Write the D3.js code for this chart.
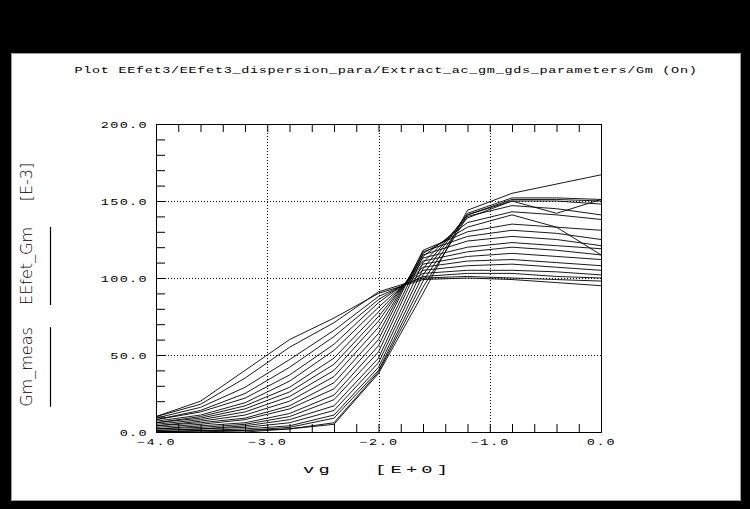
<!DOCTYPE html>
<html>
<head>
<meta charset="utf-8">
<script src="https://cdn.jsdelivr.net/npm/d3@7"></script>
<style>
  html, body { margin: 0; padding: 0; background: #000; }
  svg { display: block; }
</style>
</head>
<body>
<svg id="chart" width="750" height="509"></svg>
<script>
// Gate-voltage sweep points (V)
const vg = [-4.0, -3.6, -3.2, -2.8, -2.4, -2.0, -1.6, -1.2, -0.8, -0.4, 0.0];

// Measured transconductance, one row per bias condition (mS)
const gmMeas = [
  [10, 20, 40, 60, 74, 90,  99, 100,  99,  97,  95],
  [9, 16, 29, 47, 66, 88, 101, 103, 103, 101, 100],
  [8, 13, 22, 37, 57, 84, 105, 108, 109, 107, 105],
  [6, 10, 17, 29, 48, 78, 109, 114, 116, 114, 112],
  [5,  8, 13, 23, 40, 72, 113, 120, 123, 121, 119],
  [4,  6,  9, 17, 32, 64, 117, 127, 131, 129, 125],
  [2,  4,  6, 12, 24, 56, 116, 133, 141, 133, 115],
  [1,  2,  4,  8, 17, 48, 110, 139, 150, 142, 151],
  [0,  1,  2,  4, 11, 42, 102, 142, 152, 152, 151],
  [0,  0,  0,  2,  5, 38,  90, 144, 155, 161, 167]
];

// EEfet model transconductance for the same bias conditions (mS)
const gmModel = [
  [10, 18, 35, 55, 71, 91, 100, 101, 100,  99,  98],
  [8, 14, 25, 42, 62, 86, 103, 105, 105, 104, 102],
  [7, 11, 19, 33, 53, 81, 107, 111, 112, 110, 108],
  [6,  9, 15, 26, 44, 75, 111, 117, 120, 118, 115],
  [4,  7, 11, 20, 36, 68, 115, 124, 127, 125, 121],
  [3,  5,  8, 15, 28, 60, 118, 130, 135, 133, 131],
  [2,  3,  5, 10, 21, 52, 114, 136, 143, 141, 138],
  [1,  2,  3,  6, 14, 45, 106, 141, 150, 150, 148],
  [0,  1,  1,  3,  9, 40,  98, 141, 151, 151, 150],
  [0,  0,  1,  2,  6, 39,  94, 140, 147, 145, 141]
];

// Axis labelling
const xTickLabels = [-4, -3, -2, -1, 0];
const yTickLabels = [0, 50, 100, 150, 200];
const xMinorStep = 0.2;
const yMinorStep = 10;
const titleText = "Plot EEfet3/EEfet3_dispersion_para/Extract_ac_gm_gds_parameters/Gm (On)";
const xName = "vg";
const xUnit = "[E+0]";
const yNames = ["Gm_meas", "EEfet_Gm"];
const yUnit = "[E-3]";

const svg = d3.select("#chart");
const mono = "'Liberation Mono', 'DejaVu Sans Mono', monospace";

// White drawing sheet on the black screen
svg.append("rect")
  .attr("x", 11.5).attr("y", 53.5)
  .attr("width", 729).attr("height", 447)
  .attr("fill", "#fff").attr("stroke", "#9a9a9a");

const plot = { left: 156, right: 601, top: 124, bottom: 432 };
const x = d3.scaleLinear().domain([xTickLabels[0], xTickLabels[xTickLabels.length - 1]])
  .range([plot.left, plot.right]);
const y = d3.scaleLinear().domain([yTickLabels[0], yTickLabels[yTickLabels.length - 1]])
  .range([plot.bottom, plot.top]);

// Wide, short plotter-style lettering
function plotterText(sel, size, sx, spacing) {
  sel.attr("font-family", mono)
    .attr("font-size", size)
    .attr("letter-spacing", spacing)
    .attr("fill", "#000")
    .attr("transform", `scale(${sx},1)`);
}

// Title
const title = svg.append("text")
  .attr("x", 386 / 1.5).attr("y", 73)
  .attr("text-anchor", "middle")
  .text(titleText);
plotterText(title, 9, 1.5, 0.45);

// Dotted grid at labelled values
const grid = svg.append("g")
  .attr("stroke", "#000").attr("stroke-width", 1)
  .attr("stroke-dasharray", "1,2");
grid.selectAll("line.gx")
  .data(xTickLabels.slice(1, -1))
  .join("line")
  .attr("x1", d => Math.round(x(d)) + 0.5).attr("x2", d => Math.round(x(d)) + 0.5)
  .attr("y1", plot.top).attr("y2", plot.bottom);
grid.selectAll("line.gy")
  .data(yTickLabels.slice(1, -1))
  .join("line")
  .attr("y1", d => Math.round(y(d)) + 0.5).attr("y2", d => Math.round(y(d)) + 0.5)
  .attr("x1", plot.left).attr("x2", plot.right);

// Minor tick positions
const nx = Math.round((x.domain()[1] - x.domain()[0]) / xMinorStep);
const xMinor = d3.range(nx + 1).map(i => +(x.domain()[0] + i * xMinorStep).toFixed(1));
const ny = Math.round((y.domain()[1] - y.domain()[0]) / yMinorStep);
const yMinor = d3.range(ny + 1).map(i => y.domain()[0] + i * yMinorStep);

const fmt = d3.format(".1f");

// Left axis: inward ticks every 10, labels every 50
const yAxis = svg.append("g")
  .attr("transform", `translate(${plot.left},0)`)
  .call(d3.axisLeft(y).tickValues(yMinor).tickSize(-9).tickPadding(9)
    .tickFormat(d => yTickLabels.includes(d) ? fmt(d) : ""));
yAxis.select(".domain").remove();
yAxis.selectAll(".tick line").attr("stroke", "#000");
yAxis.selectAll(".tick text").each(function () {
  const t = d3.select(this);
  t.attr("x", -8 / 1.5).attr("dy", "0.36em").attr("text-anchor", "end");
  plotterText(t, 9, 1.5, 0.9);
});

// Bottom axis: inward ticks every 0.2, labels at whole volts
const xAxis = svg.append("g")
  .attr("transform", `translate(0,${plot.bottom})`)
  .call(d3.axisBottom(x).tickValues(xMinor).tickSize(-8).tickPadding(7)
    .tickFormat(d => xTickLabels.includes(d) ? fmt(d) : ""));
xAxis.select(".domain").remove();
xAxis.selectAll(".tick line").attr("stroke", "#000");
xAxis.selectAll(".tick text").each(function () {
  plotterText(d3.select(this), 9, 1.5, 1.2);
});

// Top axis: inward ticks only
const topAxis = svg.append("g")
  .attr("transform", `translate(0,${plot.top})`)
  .call(d3.axisTop(x).tickValues(xMinor).tickSize(-8).tickFormat(""));
topAxis.select(".domain").remove();
topAxis.selectAll(".tick line").attr("stroke", "#000");

// Plot frame
svg.append("rect")
  .attr("x", plot.left + 0.5).attr("y", plot.top + 0.5)
  .attr("width", plot.right - plot.left).attr("height", plot.bottom - plot.top)
  .attr("fill", "none").attr("stroke", "#000");

// Curves
const line = d3.line()
  .x((d, i) => x(vg[i]))
  .y(d => y(d));
const curves = svg.append("g").attr("fill", "none").attr("stroke", "#000").attr("stroke-width", 0.9);
curves.selectAll("path.meas").data(gmMeas).join("path")
  .attr("class", "meas").attr("d", line);
curves.selectAll("path.model").data(gmModel).join("path")
  .attr("class", "model").attr("d", line);

// X axis title
const xn = svg.append("text").attr("x", 303 / 1.7).attr("y", 473).text(xName);
plotterText(xn, 11, 1.7, 2.5);
const xu = svg.append("text").attr("x", 375 / 1.7).attr("y", 473).text(xUnit);
plotterText(xu, 11, 1.7, 2.5);

// Y axis title with legend strokes beside each trace name
const yCentres = [367, 266];
yNames.forEach((name, i) => {
  const t = svg.append("text")
    .attr("transform", `translate(32,${yCentres[i]}) rotate(-90)`)
    .attr("text-anchor", "middle")
    .attr("font-family", "'DejaVu Sans', sans-serif")
    .attr("font-weight", 200)
    .attr("font-size", 16)
    .attr("fill", "#000")
    .text(name);
  const len = t.node().getComputedTextLength();
  svg.append("line")
    .attr("x1", 50.5).attr("x2", 50.5)
    .attr("y1", yCentres[i] - len / 2).attr("y2", yCentres[i] + len / 2)
    .attr("stroke", "#000").attr("stroke-width", 1.2);
});
svg.append("text")
  .attr("transform", "translate(32,182) rotate(-90)")
  .attr("text-anchor", "middle")
  .attr("font-family", "'DejaVu Sans', sans-serif")
  .attr("font-weight", 200)
  .attr("font-size", 16)
  .attr("fill", "#000")
  .text(yUnit);
</script>
</body>
</html>
